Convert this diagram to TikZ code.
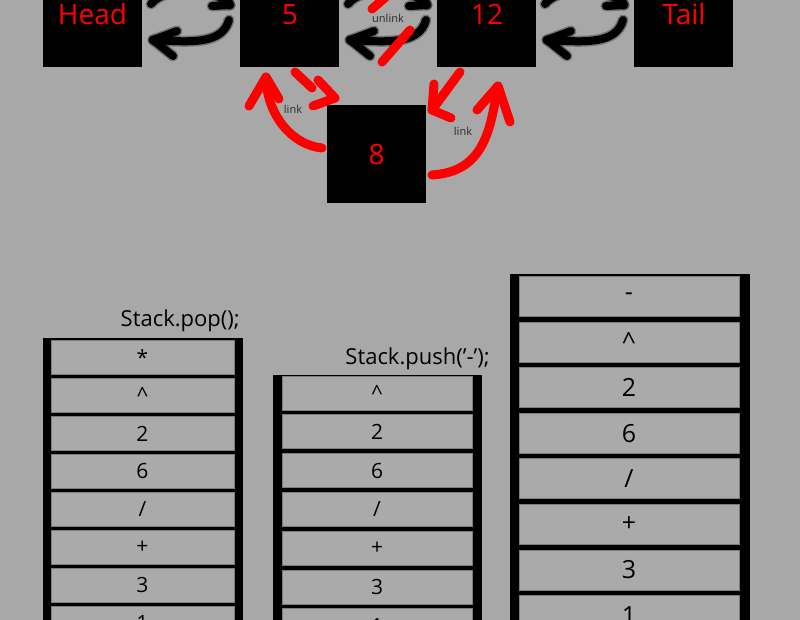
\documentclass[tikz,border=0pt]{standalone}
\usepackage{fontspec}
\setmainfont{Open Sans}
\definecolor{bg}{HTML}{A8A8A8}
\definecolor{cellbg}{HTML}{AAAAAA}
\definecolor{celledge}{HTML}{7C7C7C}
\definecolor{lblgray}{HTML}{2A2A2A}
\tikzset{
  box/.style={fill=black, draw=none, inner sep=0pt},
  boxtxt/.style={text=red, font=\fontsize{28}{30}\selectfont, inner sep=0pt, anchor=base},
  small/.style={text=lblgray, font=\fontsize{11}{12}\selectfont, inner sep=0pt},
  blkstroke/.style={draw=black, line width=8pt, line cap=round, line join=round,
     preaction={draw=black, opacity=0.3, line width=11pt, line cap=round, line join=round}},
  redstroke/.style={draw=red, line width=9pt, line cap=round, line join=round},
  cell/.style={fill=cellbg, draw=celledge, line width=0.8pt, inner sep=0pt, anchor=north},
  opname/.style={font=\fontsize{22}{24}\selectfont, inner sep=0pt, anchor=base east, text=black}
}
\newcommand\swapArr[1]{%
  \begin{scope}[xshift=#1]
    \draw[blkstroke] (151,4) .. controls (165,-14) and (215,-14) .. (230,5);
    \draw[blkstroke] (222,-12) -- (230,5) -- (212,6);
    \draw[blkstroke] (229,20) .. controls (222,45) and (190,42) .. (153,40);
    \draw[blkstroke] (177,31) -- (153,40) -- (173,56);
  \end{scope}}
\begin{document}
\begin{tikzpicture}[x=1pt,y=-1pt]
\useasboundingbox (0,0) rectangle (800,620);
\fill[bg] (0,0) rectangle (800,620);
\begin{scope}
\clip (0,0) rectangle (800,620);
% list boxes
\node[box, minimum width=99pt, minimum height=72pt] (head) at (92.5,31) {};
\node[box, minimum width=99pt, minimum height=72pt] (n5) at (289.5,31) {};
\node[box, minimum width=99pt, minimum height=72pt] (n12) at (486.5,31) {};
\node[box, minimum width=99pt, minimum height=72pt] (tail) at (683.5,31) {};
\node[box, minimum width=99pt, minimum height=98pt] (n8) at (376.5,154) {};
\node[boxtxt] (headt) at (92.5,25) {Head};
\node[boxtxt] (n5t) at (290,25) {5};
\node[boxtxt] (n12t) at (487,25) {12};
\node[boxtxt] (tailt) at (684,25) {Tail};
\node[boxtxt] (n8t) at (376.5,165) {8};
% black double arrows
\swapArr{0pt}
\swapArr{197pt}
\swapArr{394pt}
% unlink marks
\draw[redstroke] (410,30) -- (382,62);
\draw[redstroke] (387,-4) -- (372,9);
\node[small] (unl) at (388,18) {unlink};
% red link arrows
\draw[redstroke] (322,148) .. controls (292,145) and (267,115) .. (266,78);
\draw[redstroke] (249,106) -- (266,77) -- (279,99);
\draw[redstroke] (295,72) -- (312,88);
\draw[redstroke] (318,80) -- (335,98) -- (313,106);
\draw[redstroke] (460,72) -- (432,110);
\draw[redstroke] (434,84) -- (432,110) -- (451,118);
\draw[redstroke] (432,175) .. controls (475,172) and (490,145) .. (497,87);
\draw[redstroke] (477,110) -- (498,86) -- (510,122);
\node[small] (lk1) at (293,109) {link};
\node[small] (lk2) at (463,131) {link};
% left stack
\node[opname] (popl) at (240,326) {Stack.pop();};
\fill[black] (43,338) rectangle (243,640);
\foreach \t [count=\i from 0] in {*,\textasciicircum,2,6,/,+,3,1}
  \node[cell, minimum width=183pt, minimum height=34pt, font=\fontsize{21}{22}\selectfont] (L\i) at (142.5,340+38*\i) {\t};
% middle stack
\node[opname] (pushl) at (490,364) {Stack.push('-');};
\fill[black] (273,375) rectangle (482,640);
\foreach \t [count=\i from 0] in {\textasciicircum,2,6,/,+,3,1}
  \node[cell, minimum width=190pt, minimum height=34pt, font=\fontsize{21}{22}\selectfont] (M\i) at (377,375.5+38.8*\i) {\t};
% right stack
\fill[black] (510,274) rectangle (750,640);
\foreach \t [count=\i from 0] in {-,\textasciicircum,2,6,/,+,3,1}
  \node[cell, minimum width=220pt, minimum height=40pt, font=\fontsize{25}{26}\selectfont] (R\i) at (629,276+45.6*\i) {\t};
\end{scope}
\end{tikzpicture}
\end{document}
